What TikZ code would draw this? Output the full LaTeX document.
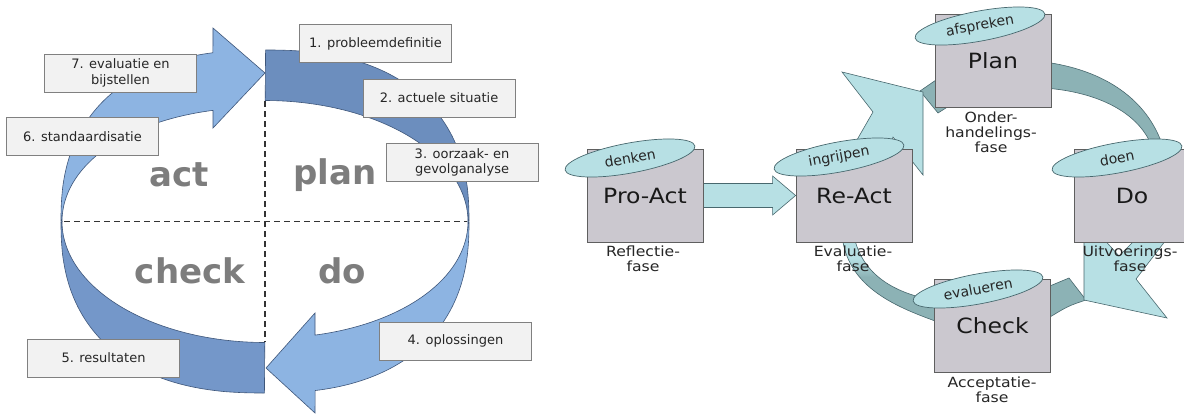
\documentclass[tikz,border=0pt]{standalone}
\usepackage{fontspec}
\usepackage{graphicx}
\setmainfont{DejaVu Sans}
\usetikzlibrary{shapes.geometric,backgrounds,calc}

\definecolor{bandDark}{RGB}{108,142,190}
\definecolor{bandMid}{RGB}{116,151,201}
\definecolor{bandLight}{RGB}{141,180,226}
\definecolor{bandLine}{RGB}{62,86,122}
\definecolor{labelFill}{RGB}{242,242,242}
\definecolor{labelLine}{RGB}{128,128,128}
\definecolor{wordGray}{RGB}{125,125,125}
\definecolor{tealLight}{RGB}{183,224,228}
\definecolor{tealDark}{RGB}{140,178,181}
\definecolor{tealLine}{RGB}{72,104,110}
\definecolor{boxFill}{RGB}{203,200,207}
\definecolor{boxLine}{RGB}{95,95,95}

% horizontally widened text
\newcommand\wide[2][1.12]{\scalebox{#1}[1]{#2}}

% ring geometry: outer superellipse, inner ellipse
\def\Cx{265}\def\Cy{221.5}
\def\Ro{204}\def\Rv{171.5}
\def\ri{203}\def\rv{121}

\tikzset{
  steplabel/.style={draw=labelLine, fill=labelFill, line width=0.8pt,
    minimum width=152pt, minimum height=38pt, inner sep=0pt, align=center,
    font=\fontsize{13}{15.5}\selectfont, text=black!85},
  phaseword/.style={font=\fontsize{34}{34}\selectfont\bfseries,
    text=wordGray, anchor=base, inner sep=0pt},
  band/.style={draw=bandLine, line width=0.6pt},
  phasebox/.style={draw=boxLine, fill=boxFill, line width=0.8pt,
    minimum width=116pt, minimum height=93pt, inner sep=0pt,
    font=\fontsize{21}{21}\selectfont, text=black!90},
  verb/.style={ellipse, draw=tealLine, fill=tealLight, line width=0.7pt,
    minimum width=132pt, minimum height=30pt, inner sep=0pt, rotate=10.5,
    font=\fontsize{14}{14}\selectfont, text=black!85},
  phasenote/.style={anchor=north, inner sep=0pt, align=center,
    font=\fontsize{14}{15}\selectfont, text=black!85},
  ribbonlight/.style={fill=tealLight, draw=tealLine, line width=0.6pt},
  ribbondark/.style={fill=tealDark, draw=tealLine, line width=0.6pt},
  quarter/.style={draw=black!80, line width=1.3pt, dash pattern=on 6pt off 4pt},
}

\begin{document}
\begin{tikzpicture}[x=1pt, y=-1pt]
\useasboundingbox (0,0) rectangle (1184,416);

% ---------------- PDCA cycle ----------------
\node[steplabel] (s1) at (375.5,43.5) {1. probleemdefinitie};
\node[steplabel] (s2) at (439,98) {2. actuele situatie};
\node[steplabel] (s3) at (462,162.5) {3. oorzaak- en\\gevolganalyse};
\node[steplabel] (s4) at (455.5,341) {4. oplossingen};
\node[steplabel] (s5) at (103.5,358) {5. resultaten};
\node[steplabel] (s6) at (82.5,136.5) {6. standaardisatie};
\node[steplabel] (s7) at (120.5,73) {7. evaluatie en\\bijstellen};

\node[phaseword] (wact)   at (179,186) {act};
\node[phaseword] (wplan)  at (335,184) {plan};
\node[phaseword] (wcheck) at (190,283) {check};
\node[phaseword] (wdo)    at (342,283) {do};

% ---------------- Pro-Act / Re-Act model ----------------
\node[phasebox] (pro)   at (645,195.5) {\wide{Pro-Act}};
\node[phasebox] (react) at (854,195.5) {\wide{Re-Act}};
\node[phasebox] (plan)  at (993,61)    {\wide{Plan}};
\node[phasebox] (do)    at (1132,195.5) {\wide{Do}};
\node[phasebox] (check) at (992.5,325.5) {\wide{Check}};

\node[verb] (denken)    at (630,158) {denken};
\node[verb] (ingrijpen) at (839,157) {ingrijpen};
\node[verb] (afspreken) at (980,26)  {afspreken};
\node[verb] (doen)      at (1117,158) {doen};
\node[verb] (evalueren) at (978,289) {evalueren};

\node[phasenote] (nref)   at (643,246)  {\wide{Reflectie-}\\\wide{fase}};
\node[phasenote] (neval)  at (853,246)  {\wide{Evaluatie-}\\\wide{fase}};
\node[phasenote] (nonder) at (991,112)  {\wide{Onder-}\\\wide{handelings-}\\\wide{fase}};
\node[phasenote] (nuit)   at (1130,246) {\wide{Uitvoerings-}\\\wide{fase}};
\node[phasenote] (nacc)   at (992,377)  {\wide{Acceptatie-}\\\wide{fase}};

\begin{scope}[on background layer]
  \fill[white] (0,0) rectangle (1184,416);

  % plan quarter (top right)
  \filldraw[band, fill=bandDark]
    plot[domain=89.95:0.05, samples=60] ({\Cx+\Ro*pow(cos(\x),0.8333)}, {\Cy-\Rv*pow(sin(\x),0.8333)})
    -- plot[domain=0.05:89.95, samples=60] ({\Cx+\ri*cos(\x)}, {\Cy-\rv*sin(\x)})
    -- cycle;
  % check quarter (bottom left)
  \filldraw[band, fill=bandMid]
    plot[domain=89.95:0.05, samples=60] ({\Cx-\Ro*pow(cos(\x),0.8333)}, {\Cy+\Rv*pow(sin(\x),0.8333)})
    -- plot[domain=0.05:89.95, samples=60] ({\Cx-\ri*cos(\x)}, {\Cy+\rv*sin(\x)})
    -- cycle;
  % act arrow (left, up to the top)
  \filldraw[band, fill=bandLight]
    plot[domain=0.05:78.82, samples=60] ({\Cx-\Ro*pow(cos(\x),0.8333)}, {\Cy-\Rv*pow(sin(\x),0.8333)})
    -- (213,28) -- (265,73) -- (213,128)
    -- plot[domain=75.16:0.05, samples=60] ({\Cx-\ri*cos(\x)}, {\Cy-(\rv-0.08*\x)*sin(\x)})
    -- cycle;
  % do arrow (right, down to the bottom)
  \filldraw[band, fill=bandLight]
    plot[domain=0.05:79.33, samples=60] ({\Cx+\Ro*pow(cos(\x),0.8333)}, {\Cy+\Rv*pow(sin(\x),0.8333)})
    -- (315,413) -- (266,368) -- (315,313)
    -- plot[domain=75.74:0.05, samples=60] ({\Cx+\ri*cos(\x)}, {\Cy+(\rv-0.05*\x)*sin(\x)})
    -- cycle;

  % ribbon from Plan to Do
  \filldraw[ribbondark] ($(plan.east)+(-7,1)$) .. controls (1105,70) and (1148,100) .. (1163,147)
    -- (1152,147) .. controls (1140,114) and (1100,92) .. ($(plan.east)+(-7,27)$) -- cycle;
  % ribbon end behind Plan
  \filldraw[ribbondark] (920,91) -- (936,80) -- (949,106) -- (938,113) -- cycle;
  % ribbon from Check back to Re-Act
  \begin{scope}
    \clip (842,236) .. controls (848,285) and (890,305) .. (938,322)
      -- (938,301) .. controls (895,294) and (862,275) .. (854,236) -- cycle;
    \fill[tealDark] (830,230) rectangle (940,330);
    \fill[tealLight] (830,230) rectangle (880,258);
    \shade[top color=tealLight, bottom color=tealDark] (830,258) rectangle (880,277);
  \end{scope}
  \draw[tealLine, line width=0.6pt] (842,236) .. controls (848,285) and (890,305) .. (938,322)
      -- (938,301) .. controls (895,294) and (862,275) .. (854,236) -- cycle;
  % ribbon piece right of Check
  \filldraw[ribbondark] (1045,288) -- (1069,278) -- (1086,300) .. controls (1068,306) .. (1045,320) -- cycle;

  % arrow from Re-Act up to Plan
  \filldraw[ribbonlight] (850,152) -- (873,112) -- (842,72) -- (923,92) -- (923,175)
    -- (893,137) -- (889,152) -- cycle;
  % arrow from Do down to Check
  \filldraw[ribbonlight] (1084,236) -- (1084,300) -- (1167,318) -- (1136,279) -- (1169,236)
    -- (1139,236) -- (1119,256) -- (1101,236) -- cycle;
  % straight arrow Pro-Act -> Re-Act
  \filldraw[ribbonlight] ($(pro.east)+(0,-12)$) -- ($(react.west)+(-23,-12)$)
    -- ($(react.west)+(-23,-19.5)$) -- (react.west) -- ($(react.west)+(-23,19.5)$)
    -- ($(react.west)+(-23,12)$) -- ($(pro.east)+(0,12)$) -- cycle;
\end{scope}

% quadrant divisions
\draw[quarter] (64,221.5) -- (467,221.5);
\draw[quarter] (265,101) -- (265,342);

\end{tikzpicture}
\end{document}
